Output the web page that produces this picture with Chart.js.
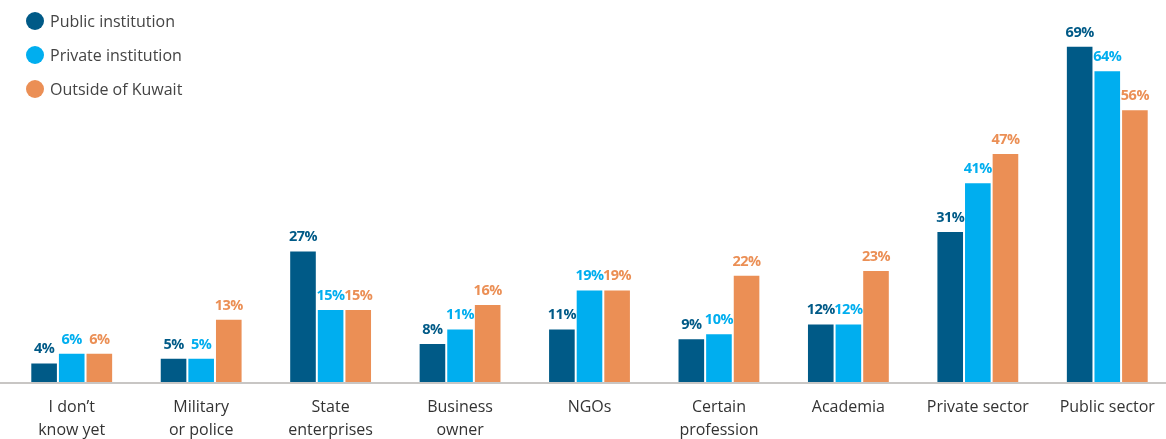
<!DOCTYPE html>
<html>
<head>
<meta charset="utf-8">
<script src="https://cdn.jsdelivr.net/npm/chart.js@4"></script>
<style>
  html, body { margin: 0; padding: 0; background: #fff; }
  #wrap { position: relative; width: 1166px; height: 439px; overflow: hidden; }
  #legend { position: absolute; left: 26px; top: 9px; font-family: "Open Sans", sans-serif; font-size: 16px; color: #444; }
  #legend div { height: 34px; line-height: 24px; }
  #legend span.dot { display: inline-block; width: 18px; height: 18px; border-radius: 50%; vertical-align: -3px; margin-right: 6px; }
</style>
</head>
<body>
<div id="wrap">
  <canvas id="myChart" width="1172" height="439"></canvas>
  <div id="legend"></div>
</div>
<script>
const categories = [
    ['I don’t', 'know yet'],
    ['Military', 'or police'],
    ['State', 'enterprises'],
    ['Business', 'owner'],
    ['NGOs'],
    ['Certain', 'profession'],
    ['Academia'],
    ['Private sector'],
    ['Public sector']
];
const seriesNames = ['Public institution', 'Private institution', 'Outside of Kuwait'];
const publicInst = [4, 5, 27, 8, 11, 9, 12, 31, 69];
const privateInst = [6, 5, 15, 11, 19, 10, 12, 41, 64];
const outsideKuwait = [6, 13, 15, 16, 19, 22, 23, 47, 56];
const colors = ['#005A87', '#00AEEF', '#EB8F55'];

// legend on top of the plot, stacked vertically
const legend = document.getElementById('legend');
seriesNames.forEach(function (name, i) {
    const row = document.createElement('div');
    row.innerHTML = '<span class="dot" style="background:' + colors[i] + '"></span>' + name;
    legend.appendChild(row);
});

// value labels above each bar
const valueLabels = {
    id: 'valueLabels',
    afterDatasetsDraw(chart) {
        const ctx = chart.ctx;
        ctx.save();
        ctx.font = 'bold 14.5px "Open Sans", sans-serif';
        ctx.letterSpacing = '-0.5px';
        ctx.textAlign = 'center';
        ctx.textBaseline = 'bottom';
        chart.data.datasets.forEach(function (ds, i) {
            ctx.fillStyle = colors[i];
            chart.getDatasetMeta(i).data.forEach(function (bar, j) {
                ctx.fillText(ds.data[j] + '%', bar.x, bar.y - 6);
            });
        });
        ctx.restore();
    }
};

// baseline across the full width
const baseLine = {
    id: 'baseLine',
    afterDraw(chart) {
        const ctx = chart.ctx;
        const y = chart.scales.y.getPixelForValue(0);
        ctx.save();
        ctx.strokeStyle = '#c8c6c4';
        ctx.lineWidth = 2;
        ctx.beginPath();
        ctx.moveTo(0, y + 1);
        ctx.lineTo(chart.width, y + 1);
        ctx.stroke();
        ctx.restore();
    }
};

const ctx = document.getElementById('myChart');
new Chart(ctx, {
    type: 'bar',
    data: {
        labels: categories,
        datasets: [
            { label: seriesNames[0], data: publicInst, backgroundColor: colors[0] },
            { label: seriesNames[1], data: privateInst, backgroundColor: colors[1] },
            { label: seriesNames[2], data: outsideKuwait, backgroundColor: colors[2] }
        ].map(function (d) {
            d.borderColor = '#ffffff';
            d.borderWidth = { top: 1, left: 1, right: 1, bottom: 0 };
            d.categoryPercentage = 0.64;
            d.barPercentage = 1;
            return d;
        })
    },
    plugins: [valueLabels, baseLine],
    options: {
        responsive: false,
        animation: false,
        layout: { padding: { top: 2, left: 7, right: 0, bottom: 0 } },
        plugins: {
            legend: { display: false },
            tooltip: { enabled: false }
        },
        scales: {
            x: {
                grid: { display: false, drawTicks: false },
                border: { display: false },
                afterFit: function (scale) { scale.height = 57; },
                ticks: {
                    color: '#333',
                    padding: 14,
                    maxRotation: 0,
                    autoSkip: false,
                    font: { family: '"Open Sans", sans-serif', size: 16, lineHeight: 1.45 }
                }
            },
            y: {
                display: false,
                min: 0,
                max: 78
            }
        }
    }
});
</script>
</body>
</html>
